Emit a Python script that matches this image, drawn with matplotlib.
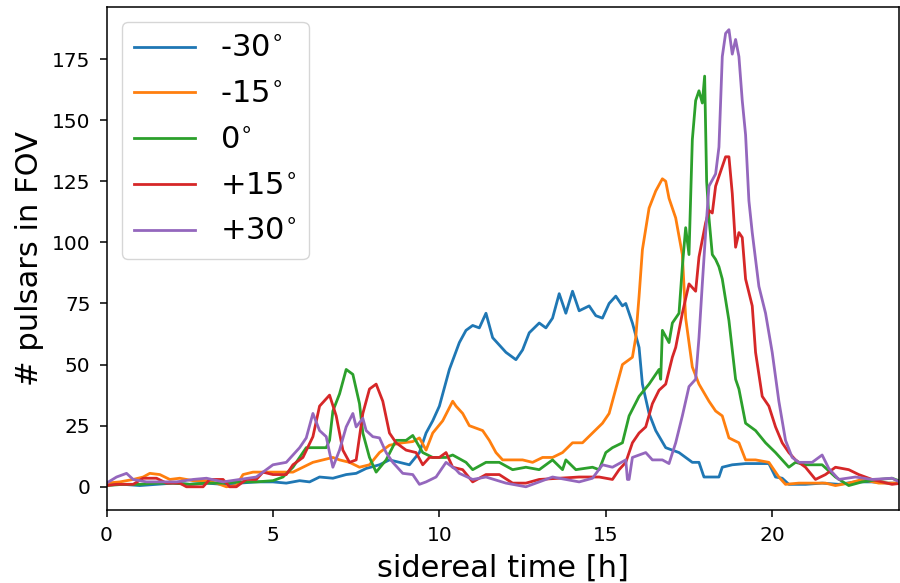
import numpy as np
import matplotlib
matplotlib.use("Agg")
import matplotlib.pyplot as plt

# -30 deg
t_m30 = [0, 0.5, 1.0, 1.5, 2.0, 2.5, 3.0, 3.5, 4.0, 4.5, 5.0, 5.4, 5.8, 6.1, 6.4, 6.8, 7.2, 7.5, 7.8, 8.2,
         8.5, 8.8, 9.1, 9.4, 9.6, 9.8, 10.0, 10.3, 10.6, 10.8, 11.0, 11.2, 11.4, 11.6, 11.8, 12.0, 12.3, 12.5,
         12.7, 13.0, 13.2, 13.4, 13.6, 13.8, 14.0, 14.2, 14.5, 14.7, 14.9, 15.1, 15.3, 15.5, 15.6, 15.8, 16.0,
         16.1, 16.3, 16.5, 16.8, 17.0, 17.2, 17.4, 17.6, 17.8, 17.95, 18.0, 18.4, 18.5, 18.8, 19.2, 19.6, 19.9,
         20.1, 20.3, 20.5, 21.0, 21.5, 22.0, 22.5, 23.0, 23.5, 23.9]
n_m30 = [1, 1, 0.5, 1, 1.5, 1, 1.5, 1, 1.5, 2, 2, 1.5, 2.5, 2, 4, 3.5, 5, 5.5, 7.5, 9,
         11, 10, 9, 14, 22, 27, 33, 48, 59, 64, 66, 65, 71, 61, 58, 55, 52, 56,
         63, 67, 65, 69, 79, 71, 80, 72, 74, 70, 69, 75, 78, 74, 75, 67, 57,
         42, 30, 23, 16, 15, 14, 12, 10, 10, 4, 4, 4, 8, 9, 9.5, 9.5, 9.5,
         4, 3.5, 1, 1, 1.5, 1, 2, 2, 1.5, 1.5]

# -15 deg
t_m15 = [0, 0.4, 0.8, 1.1, 1.3, 1.6, 1.9, 2.2, 2.6, 3.0, 3.3, 3.6, 3.9, 4.1, 4.4, 4.8, 5.2, 5.6, 5.9, 6.2,
         6.5, 6.8, 7.0, 7.3, 7.6, 7.9, 8.2, 8.5, 8.9, 9.2, 9.4, 9.6, 9.8, 10.1, 10.4, 10.5, 10.7, 10.9, 11.1,
         11.3, 11.5, 11.7, 11.9, 12.2, 12.5, 12.8, 13.1, 13.4, 13.7, 14.0, 14.3, 14.6, 14.9, 15.1, 15.3, 15.5,
         15.8, 15.9, 16.0, 16.1, 16.3, 16.5, 16.7, 16.8, 16.9, 17.1, 17.3, 17.4, 17.6, 17.8, 18.1, 18.3, 18.5,
         18.7, 19.0, 19.2, 19.5, 19.9, 20.2, 20.4, 20.8, 21.2, 21.6, 21.9, 22.3, 22.7, 23.2, 23.6, 23.9]
n_m15 = [1.5, 2, 3, 4, 5.5, 5, 3, 3.5, 2.5, 2.5, 1.5, 0, 0.5, 5, 6, 6, 6, 6, 8, 10,
         11, 12, 11, 10, 8, 9, 14, 17, 18, 18.5, 20, 15, 22, 27, 35, 33, 30, 25, 24,
         23, 19, 14, 11, 11, 11, 10, 12, 12, 14, 18, 18, 22, 26, 30, 40, 50,
         53, 61, 78, 97, 114, 121, 126, 125, 118, 110, 95, 69, 49, 42, 35, 31, 29,
         20, 18, 11, 11, 10, 4, 1, 1.5, 1.5, 1.5, 0.5, 1.5, 3, 1.5, 1.5, 1.5]

# 0 deg
t_0 = [0, 0.5, 1.0, 1.5, 2.0, 2.5, 3.0, 3.5, 4.0, 4.5, 5.0, 5.3, 5.6, 5.8, 6.0, 6.3, 6.6, 6.7, 6.8, 7.0,
       7.2, 7.4, 7.6, 7.7, 7.9, 8.1, 8.4, 8.7, 9.0, 9.2, 9.5, 9.8, 10.2, 10.4, 10.8, 11.0, 11.4, 11.8, 12.2,
       12.6, 13.0, 13.4, 13.7, 13.8, 14.1, 14.6, 14.8, 15.0, 15.2, 15.5, 15.7, 16.0, 16.3, 16.6, 16.65, 16.7,
       16.9, 17.0, 17.2, 17.3, 17.4, 17.5, 17.6, 17.7, 17.8, 17.9, 17.97, 18.03, 18.1, 18.2, 18.3, 18.4, 18.5,
       18.7, 18.9, 19.0, 19.2, 19.5, 19.8, 20.1, 20.5, 20.7, 21.0, 21.5, 21.9, 22.3, 22.7, 23.2, 23.6, 23.9]
n_0 = [0.5, 1, 1, 1.5, 1.5, 1, 1.5, 1.5, 2, 2, 2.5, 4, 8, 12, 16, 16, 16, 19, 31, 38,
       48, 46, 34, 22, 12, 6, 11, 19, 19, 21, 14, 12, 12, 13, 10, 7, 10, 10, 7,
       8, 7, 11, 7, 11, 7, 8, 7, 14, 16, 18, 29, 37, 42, 48, 44, 64,
       59, 67, 71, 90, 106, 95, 142, 158, 162, 157, 168, 125, 110, 95, 93, 90, 85,
       68, 44, 40, 26, 23, 18, 14, 8, 10, 9, 9, 4, 0.5, 2, 3, 3.5, 2]

# +15 deg
t_p15 = [0, 0.3, 0.8, 1.1, 1.5, 1.8, 2.2, 2.4, 2.9, 3.1, 3.5, 3.7, 3.9, 4.2, 4.5, 4.7, 5.0, 5.4, 5.6, 5.9,
         6.2, 6.4, 6.7, 6.9, 7.1, 7.3, 7.5, 7.7, 7.9, 8.1, 8.3, 8.5, 8.7, 9.0, 9.3, 9.5, 9.7, 10.0, 10.2,
         10.4, 10.7, 11.0, 11.4, 11.8, 12.2, 12.6, 13.0, 13.6, 14.2, 14.8, 15.2, 15.4, 15.6, 15.8, 16.0,
         16.2, 16.4, 16.6, 16.8, 17.0, 17.1, 17.3, 17.5, 17.7, 17.8, 18.0, 18.1, 18.2, 18.3, 18.5, 18.6,
         18.7, 18.8, 18.9, 19.0, 19.1, 19.2, 19.4, 19.5, 19.7, 19.9, 20.1, 20.3, 20.5, 20.7, 21.0, 21.3,
         21.6, 21.9, 22.3, 22.6, 23.0, 23.6, 23.9]
n_p15 = [0.5, 1, 1, 3.5, 3.5, 1.5, 1.5, 0, 0, 3, 3, 0, 0, 3, 3, 6, 5, 5, 9, 12,
         20.5, 33, 37.5, 29, 15, 10, 11, 30, 40, 42, 35, 22, 18, 15, 14, 9, 12, 12, 14,
         8, 7, 2, 5, 5, 1.5, 1.5, 3, 3.5, 4, 4, 3, 7, 10, 18, 22,
         24.5, 34, 39.5, 42, 53, 57, 71, 83, 80, 94, 108, 113, 112, 123, 131, 135,
         135, 120, 98, 104, 102, 85, 74, 55, 37, 33, 24.5, 18, 14, 11, 8, 3,
         5, 8, 7, 5, 3, 1, 1.5]

# +30 deg
t_p30 = [0, 0.3, 0.6, 0.8, 1.2, 1.6, 2.1, 2.6, 3.0, 3.5, 4.0, 4.5, 5.0, 5.4, 5.8, 6.0, 6.2, 6.4, 6.6, 6.7,
         6.8, 7.0, 7.2, 7.4, 7.5, 7.7, 7.8, 8.0, 8.2, 8.4, 8.6, 8.9, 9.2, 9.4, 9.6, 9.9, 10.2, 10.5, 10.6,
         11.0, 11.4, 12.0, 12.6, 13.0, 13.4, 13.8, 14.2, 14.6, 14.9, 15.2, 15.4, 15.6, 15.65, 15.7, 15.8,
         16.2, 16.4, 16.7, 16.9, 17.1, 17.3, 17.5, 17.7, 17.8, 17.9, 18.0, 18.1, 18.3, 18.4, 18.5, 18.6,
         18.7, 18.8, 18.9, 19.0, 19.1, 19.2, 19.3, 19.4, 19.6, 19.8, 20.0, 20.2, 20.4, 20.6, 20.8, 21.2,
         21.5, 21.7, 22.0, 22.5, 23.0, 23.6, 23.9]
n_p30 = [1.5, 4, 5.5, 3, 2, 2, 2, 3, 3.5, 2, 3, 4, 9, 10, 16, 20, 30, 23, 20.5, 14,
         8, 15, 24.5, 30, 24.5, 28, 23, 20.5, 20, 14, 10, 5.5, 5, 1, 2, 4, 10, 7, 5.5,
         3, 4, 1.5, 0, 2, 4, 3, 2, 3.5, 9, 8, 9.5, 11, 3, 3, 12,
         14, 11, 11, 9.5, 18, 29, 41, 44, 61, 83, 104, 123, 128, 139, 176, 185.5,
         187, 177, 183, 176, 158, 144, 117, 104, 82, 71, 55, 35, 19, 12, 10, 10,
         13, 7.5, 3, 4, 3, 3.5, 1.5]

labels = ["-30$^{\\circ}$", "-15$^{\\circ}$", "0$^{\\circ}$", "+15$^{\\circ}$", "+30$^{\\circ}$"]
series = [(t_m30, n_m30), (t_m15, n_m15), (t_0, n_0), (t_p15, n_p15), (t_p30, n_p30)]

fig = plt.figure(figsize=(9, 5.83), dpi=100)
ax = fig.add_axes([0.1184, 0.1252, 0.8805, 0.8633])

for (t, n), lab in zip(series, labels):
    ax.plot(t, n, lw=2.0, label=lab)

ax.set_xlim(0, 23.81)
ax.set_ylim(-9.5, 196.4)
ax.tick_params(labelsize=14.5, length=5, width=1.1, pad=6.5)
for s in ax.spines.values():
    s.set_linewidth(1.1)
ax.set_xlabel("sidereal time [h]", fontsize=22, labelpad=6)
ax.set_ylabel("# pulsars in FOV", fontsize=22, labelpad=6)
leg = ax.legend(loc="upper left", fontsize=22, handlelength=2.0, handletextpad=0.8,
                labelspacing=0.55)
for ln in leg.get_lines():
    ln.set_linewidth(2.0)

fig.savefig("out.png", dpi=100)
